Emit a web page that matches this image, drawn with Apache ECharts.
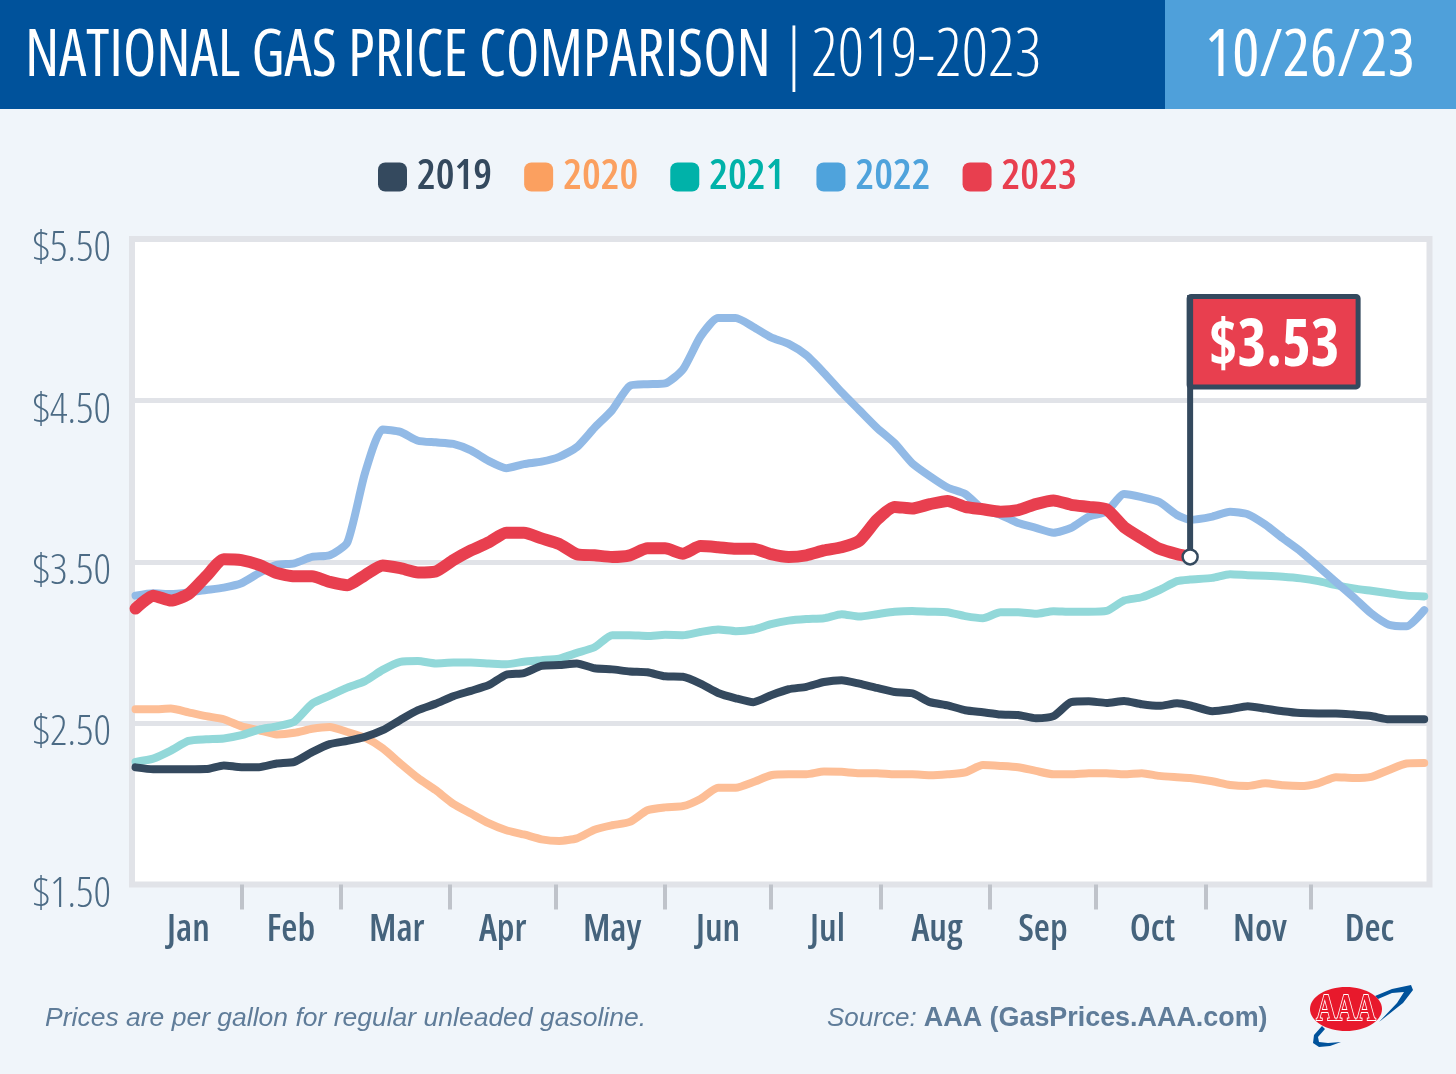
<!DOCTYPE html>
<html>
<head>
<meta charset="utf-8">
<title>National Gas Price Comparison</title>
<script src="https://cdn.jsdelivr.net/npm/echarts@6/dist/echarts.min.js"></script>
<style>
html, body { margin: 0; padding: 0; background: #f0f5fa; }
#main { width: 1456px; height: 1074px; }
</style>
</head>
<body>
<div id="main"></div>
<script>
var COND = '"Open Sans"';
var months = ['Jan', 'Feb', 'Mar', 'Apr', 'May', 'Jun', 'Jul', 'Aug', 'Sep', 'Oct', 'Nov', 'Dec'];
// day of year where the month labels sit, and the ticks between months
var labelDays = [16, 45, 75, 105, 136, 166, 197, 228, 258, 289, 319.5, 350.5];
var tickDays = [31, 59, 90, 120, 151, 181, 212, 243, 273, 304, 334];
var days = [1, 6, 11, 16, 21, 26, 31, 36, 41, 46, 51, 56, 61, 66, 71, 76, 81, 86, 91,
	96, 101, 106, 111, 116, 121, 126, 131, 136, 141, 146, 151, 156, 161, 166, 171, 176, 181, 186,
	191, 196, 201, 206, 211, 216, 221, 226, 231, 236, 241, 246, 251, 256, 261, 266, 271,
	276, 281, 286, 291, 296, 299.7,
	306, 311, 316, 321, 326, 331, 336, 341, 346, 351, 356, 361, 366];

var y2019 = [2.226, 2.214, 2.214, 2.214, 2.215, 2.238, 2.227, 2.227, 2.25, 2.26, 2.32, 2.37, 2.39, 2.415, 2.456, 2.52, 2.58, 2.62, 2.667,
	2.70, 2.735, 2.80, 2.81, 2.855, 2.86, 2.87, 2.84, 2.833, 2.82, 2.815, 2.79, 2.787, 2.745, 2.687, 2.654, 2.63, 2.673,
	2.71, 2.725, 2.755, 2.766, 2.745, 2.718, 2.693, 2.685, 2.63, 2.61, 2.58, 2.567, 2.553, 2.55, 2.53, 2.543, 2.63, 2.635,
	2.625, 2.637, 2.617, 2.607, 2.623, 2.61,
	2.574, 2.586, 2.605, 2.59, 2.574, 2.563, 2.56, 2.56, 2.553, 2.544, 2.524, 2.524, 2.524];
var y2020 = [2.586, 2.586, 2.59, 2.567, 2.543, 2.524, 2.48, 2.456, 2.43, 2.44, 2.465, 2.476, 2.445, 2.41, 2.344, 2.25, 2.16, 2.085, 2.00,
	1.94, 1.88, 1.836, 1.81, 1.78, 1.77, 1.786, 1.84, 1.867, 1.888, 1.96, 1.978, 1.985, 2.03, 2.10, 2.10, 2.135, 2.177,
	2.183, 2.183, 2.20, 2.198, 2.19, 2.19, 2.183, 2.183, 2.177, 2.183, 2.195, 2.24, 2.235, 2.227, 2.204, 2.183, 2.183, 2.19,
	2.19, 2.183, 2.19, 2.173, 2.165, 2.16,
	2.14, 2.117, 2.11, 2.127, 2.115, 2.11, 2.127, 2.165, 2.16, 2.167, 2.21, 2.25, 2.253];
var y2021 = [2.26, 2.28, 2.33, 2.39, 2.40, 2.405, 2.425, 2.46, 2.48, 2.51, 2.62, 2.67, 2.72, 2.76, 2.83, 2.88, 2.885, 2.87, 2.875,
	2.875, 2.87, 2.865, 2.88, 2.89, 2.90, 2.935, 2.97, 3.045, 3.045, 3.04, 3.047, 3.045, 3.065, 3.08, 3.07, 3.08, 3.113,
	3.135, 3.145, 3.15, 3.175, 3.16, 3.175, 3.19, 3.195, 3.19, 3.187, 3.163, 3.15, 3.187, 3.187, 3.177, 3.194, 3.19, 3.19,
	3.195, 3.26, 3.28, 3.325, 3.38, 3.39,
	3.40, 3.423, 3.417, 3.413, 3.407, 3.397, 3.38, 3.355, 3.335, 3.32, 3.305, 3.29, 3.285];
var y2022 = [3.29, 3.305, 3.30, 3.31, 3.325, 3.34, 3.367, 3.43, 3.48, 3.49, 3.53, 3.54, 3.62, 4.05, 4.32, 4.305, 4.25, 4.24, 4.23,
	4.19, 4.125, 4.08, 4.105, 4.12, 4.15, 4.21, 4.33, 4.44, 4.59, 4.60, 4.605, 4.69, 4.895, 5.01, 5.01, 4.955, 4.89,
	4.85, 4.78, 4.67, 4.55, 4.44, 4.33, 4.235, 4.11, 4.03, 3.96, 3.92, 3.825, 3.79, 3.74, 3.71, 3.68, 3.71, 3.78,
	3.81, 3.92, 3.90, 3.87, 3.79, 3.76,
	3.78, 3.81, 3.795, 3.73, 3.645, 3.565, 3.47, 3.375, 3.28, 3.18, 3.11, 3.10, 3.20];
var y2023 = [3.21, 3.29, 3.26, 3.30, 3.41, 3.515, 3.51, 3.48, 3.43, 3.41, 3.41, 3.375, 3.355, 3.417, 3.477, 3.46, 3.434, 3.44, 3.51,
	3.57, 3.62, 3.68, 3.68, 3.645, 3.61, 3.547, 3.54, 3.53, 3.54, 3.583, 3.583, 3.55, 3.597, 3.59, 3.58, 3.58, 3.547,
	3.53, 3.54, 3.57, 3.59, 3.63, 3.76, 3.84, 3.83, 3.857, 3.877, 3.84, 3.825, 3.81, 3.82, 3.857, 3.88, 3.853, 3.84,
	3.825, 3.715, 3.645, 3.58, 3.547, 3.53];

var latestDay = 299.7;
var latestPrice = 3.53;

function pairs(vals) {
	return vals.map(function(v, i) {
		return [days[i], v];
	});
}

function lineSeries(name, vals, lineColor, legendColor, width, z) {
	return {
		name: name,
		type: 'line',
		data: pairs(vals),
		showSymbol: false,
		smooth: 0.2,
		z: z,
		lineStyle: { color: lineColor, width: width, cap: 'round', join: 'round' },
		itemStyle: { color: legendColor }
	};
}

// the flag hangs off the last 2023 point
function renderFlag(params, api) {
	var p = api.coord([api.value(0), api.value(1)]);
	var dark = '#34495e';
	return {
		type: 'group',
		children: [
			{ type: 'rect', shape: { x: p[0] - 1, y: p[1] - 260.5, width: 169, height: 90.5, r: 2 },
				style: { fill: '#e83f4f', stroke: dark, lineWidth: 5 } },
			{ type: 'rect', shape: { x: p[0] - 3, y: p[1] - 262, width: 6, height: 262 },
				style: { fill: dark } },
			{ type: 'text', x: p[0] + 84, y: p[1] - 210, scaleX: 0.93,
				style: { text: '$' + api.value(1).toFixed(2), fill: '#fff', align: 'center', verticalAlign: 'middle',
					font: 'condensed 700 66px ' + COND } },
			{ type: 'circle', shape: { cx: p[0], cy: p[1], r: 7.5 },
				style: { fill: '#fff', stroke: dark, lineWidth: 2.5 } }
		]
	};
}

var yearNames = ['2019', '2020', '2021', '2022', '2023'];
var legendColors = ['#34495e', '#fba060', '#00b2a9', '#4fa3dc', '#e83f4f'];

var chart = echarts.init(document.getElementById('main'), null, { renderer: 'canvas' });
chart.setOption({
	animation: false,
	backgroundColor: '#f0f5fa',
	grid: {
		show: true,
		left: 132,
		right: 26.5,
		top: 239,
		bottom: 189.5,
		backgroundColor: '#fff',
		borderColor: '#e1e3e8',
		borderWidth: 6
	},
	legend: {
		left: 373,
		top: 151,
		itemWidth: 29,
		itemHeight: 29,
		itemGap: 32,
		icon: 'roundRect',
		textStyle: { fontFamily: COND, fontStyle: 'condensed', fontWeight: 600, fontSize: 42, padding: [0, 0, 0, 5] },
		data: yearNames.map(function(n, i) {
			return { name: n, textStyle: { color: legendColors[i] } };
		})
	},
	xAxis: {
		type: 'value',
		min: 0,
		max: 367.5,
		splitLine: { show: false },
		axisLine: { show: false },
		axisTick: {
			show: true,
			customValues: tickDays,
			length: 25,
			lineStyle: { color: '#bfc3ca', width: 4 }
		},
		axisLabel: {
			show: true,
			customValues: labelDays,
			margin: 27,
			color: '#45637c',
			fontFamily: COND,
			fontStyle: 'condensed',
			fontWeight: 600,
			fontSize: 37,
			formatter: function(v) {
				return months[labelDays.indexOf(v)];
			}
		}
	},
	yAxis: {
		type: 'value',
		min: 1.5,
		max: 5.5,
		interval: 1,
		axisLine: { show: false },
		axisTick: { show: false },
		splitLine: { lineStyle: { color: '#e1e3e8', width: 5 } },
		axisLabel: {
			margin: 21,
			color: '#4c6b85',
			fontFamily: COND,
			fontStyle: 'condensed',
			fontWeight: 300,
			fontSize: 43,
			verticalAlign: 'top',
			lineHeight: 20,
			formatter: function(v) {
				return '$' + v.toFixed(2);
			}
		}
	},
	series: [
		lineSeries('2019', y2019, '#34495e', legendColors[0], 8, 5),
		lineSeries('2020', y2020, '#fdbe96', legendColors[1], 8, 2),
		lineSeries('2021', y2021, '#92d8d9', legendColors[2], 8, 3),
		lineSeries('2022', y2022, '#92bae6', legendColors[3], 8, 4),
		lineSeries('2023', y2023, '#e83f4f', legendColors[4], 12, 6),
		{
			name: 'latest',
			type: 'custom',
			z: 7,
			clip: false,
			renderItem: renderFlag,
			data: [[latestDay, latestPrice]]
		}
	],
	graphic: [
		{ type: 'rect', shape: { x: 0, y: 0, width: 1165, height: 109 }, style: { fill: '#00529b' } },
		{ type: 'rect', shape: { x: 1165, y: 0, width: 291, height: 109 }, style: { fill: '#4fa0da' } },
		{ type: 'text', x: 25, y: 57, scaleX: 0.926,
			style: { text: 'NATIONAL GAS PRICE COMPARISON', fill: '#fff', verticalAlign: 'middle', font: 'condensed 500 66px ' + COND } },
		{ type: 'text', x: 782, y: 57, scaleX: 0.93,
			style: { text: '|', fill: '#fff', verticalAlign: 'middle', font: 'condensed 300 66px ' + COND } },
		{ type: 'text', x: 811, y: 57, scaleX: 0.99,
			style: { text: '2019-2023', fill: '#fff', verticalAlign: 'middle', font: 'condensed 300 66px ' + COND } },
		{ type: 'text', x: 1205, y: 57, scaleX: 0.968,
			style: { text: '10/26/23', fill: '#fff', verticalAlign: 'middle', font: 'condensed 400 66px ' + COND } },
		{ type: 'text', x: 45, y: 1005,
			style: { text: 'Prices are per gallon for regular unleaded gasoline.', fill: '#5f7c99',
				font: 'italic 26.5px "Liberation Sans"' } },
		{ type: 'text', x: 827, y: 1005,
			style: { text: '{a|Source: }{b|AAA (GasPrices.AAA.com)}', rich: {
				a: { fill: '#5f7c99', font: 'italic 26px "Liberation Sans"' },
				b: { fill: '#5f7c99', font: 'bold 26.9px "Liberation Sans"' }
			} } },
		// AAA logo: swoosh, oval, letters
		{ type: 'polygon', shape: { points: [[1375, 996], [1392, 989], [1411, 985], [1413, 990], [1403, 1003], [1379, 1022], [1397, 1003], [1404, 992], [1392, 993], [1378, 999]] },
			style: { fill: '#00529b' } },
		{ type: 'polygon', shape: { points: [[1322, 1026], [1314, 1035], [1313, 1043], [1319, 1047], [1330, 1046], [1341, 1042], [1328, 1043], [1319, 1042], [1318, 1037], [1325, 1029]] },
			style: { fill: '#00529b' } },
		{ type: 'ellipse', shape: { cx: 1346, cy: 1009, rx: 36, ry: 22 }, style: { fill: '#e8192c' } },
		{ type: 'text', x: 1346, y: 1010, scaleX: 0.72,
			style: { text: 'AAA', fill: '#e8192c', stroke: '#fff', lineWidth: 2, align: 'center', verticalAlign: 'middle',
				font: 'bold 38px "Liberation Serif"' } }
	]
});
</script>
</body>
</html>
